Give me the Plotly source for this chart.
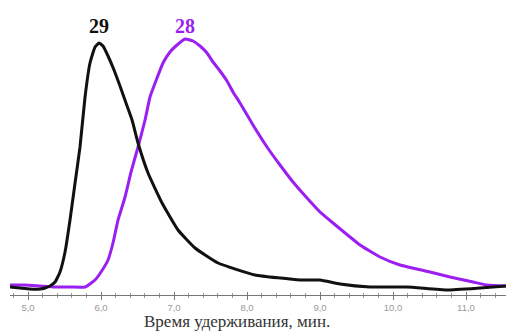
import plotly.graph_objects as go

# Retention time (min) and detector signal (arb. units)
t_29 = [4.753, 4.890, 5.027, 5.164, 5.233, 5.301, 5.370, 5.438, 5.507, 5.575, 5.644, 5.712,
        5.781, 5.849, 5.918, 5.973, 6.027, 6.096, 6.178, 6.260, 6.342, 6.425, 6.507, 6.644,
        6.836, 7.055, 7.288, 7.603, 8.110, 8.726, 9.000, 9.274, 9.685, 10.192, 10.740,
        11.192, 11.548]
s_29 = [1, 0, -1, -1, 0, 2, 6, 16, 36, 68, 105, 141,
        191, 225, 241, 245, 242, 232, 218, 202, 185, 168, 145, 115,
        85, 58, 40, 25, 13, 8, 8, 4, 1, 1, -2,
        0, 2]

t_28 = [4.753, 4.959, 5.164, 5.370, 5.575, 5.781, 5.918, 6.000, 6.096, 6.164, 6.233, 6.329,
        6.411, 6.507, 6.603, 6.671, 6.767, 6.849, 6.945, 7.041, 7.151, 7.260, 7.356, 7.452,
        7.534, 7.630, 7.726, 7.808, 7.904, 8.082, 8.274, 8.452, 8.630, 8.822, 9.000, 9.178,
        9.411, 9.548, 9.822, 10.096, 10.507, 10.781, 11.096, 11.288, 11.548]
s_28 = [3, 3, 2, 1, 1, 1, 8, 16, 28, 45, 68, 91,
        116, 141, 168, 191, 210, 225, 236, 243, 249, 247, 242, 235,
        226, 217, 207, 196, 185, 163, 141, 123, 106, 90, 76, 65,
        51, 43, 31, 23, 16, 11, 6, 3, 2]

tick_vals = [5, 6, 7, 8, 9, 10, 11]
tick_text = ["5,0", "6,0", "7,0", "8,0", "9,0", "10,0", "11,0"]

peak_labels = ["29", "28"]
peak_pos = [5.97, 7.15]
peak_colors = ["#111111", "#9b1ff0"]

fig = go.Figure()
fig.add_trace(go.Scatter(x=t_28, y=s_28, mode="lines",
                         line=dict(color=peak_colors[1], width=3, shape="spline", smoothing=0.4),
                         showlegend=False))
fig.add_trace(go.Scatter(x=t_29, y=s_29, mode="lines",
                         line=dict(color=peak_colors[0], width=3, shape="spline", smoothing=0.4),
                         showlegend=False))
# invisible trace to activate the overlay axis (ticks crossing the axis line)
fig.add_trace(go.Scatter(x=[t_29[0]], y=[s_29[0]], xaxis="x2", mode="markers",
                         marker=dict(opacity=0), showlegend=False, hoverinfo="skip"))

for lab, px, col in zip(peak_labels, peak_pos, peak_colors):
    fig.add_annotation(x=px, y=262, text="<b>" + lab + "</b>", showarrow=False,
                       font=dict(family="Liberation Serif", size=20, color=col))

fig.add_annotation(x=0.458, y=-0.097, xref="paper", yref="paper", yanchor="middle",
                   text="Время удерживания, мин.", showarrow=False,
                   font=dict(family="Liberation Serif", size=17, color="#333333"))

xr = [4.753, 11.548]
fig.update_layout(
    width=506, height=333,
    margin=dict(l=10, r=0, t=20, b=38),
    paper_bgcolor="white", plot_bgcolor="white",
    xaxis=dict(range=xr, tickvals=tick_vals, ticktext=tick_text,
               showline=True, linecolor="#777777", linewidth=1,
               ticks="outside", ticklen=4, tickcolor="#777777",
               minor=dict(dtick=0.2, tick0=5, ticks="outside", ticklen=2, tickcolor="#999999"),
               showgrid=False, zeroline=False,
               tickfont=dict(family="Liberation Sans", size=9.5, color="#999999")),
    xaxis2=dict(range=xr, overlaying="x", side="bottom", anchor="y",
                tickvals=tick_vals, showticklabels=False,
                ticks="inside", ticklen=3, tickcolor="#777777",
                minor=dict(dtick=0.2, tick0=5, ticks="inside", ticklen=2, tickcolor="#999999"),
                showgrid=False, zeroline=False, showline=False),
    yaxis=dict(range=[-7, 268], visible=False, showgrid=False, zeroline=False),
)

fig.write_html("out.html")
